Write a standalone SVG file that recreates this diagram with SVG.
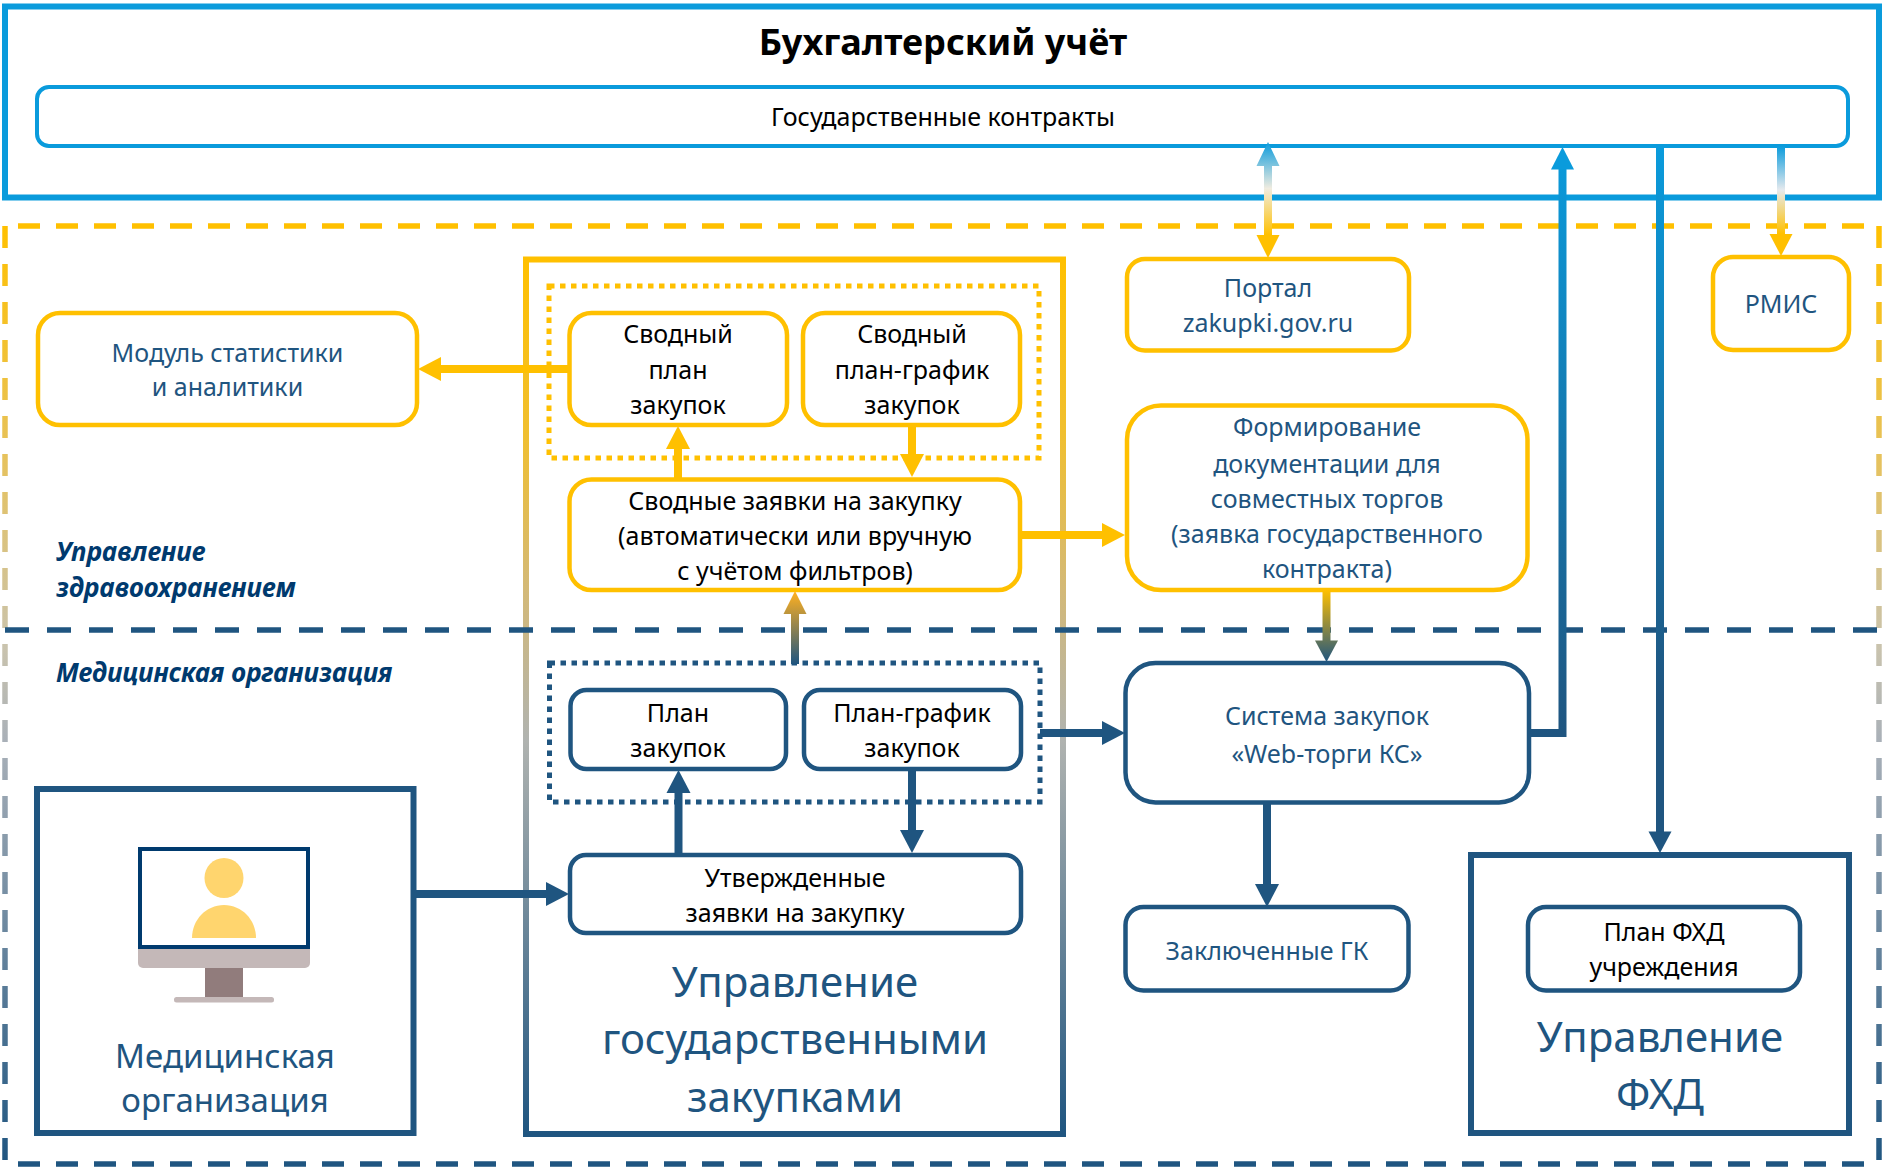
<svg xmlns="http://www.w3.org/2000/svg" width="1883" height="1167" viewBox="0 0 1883 1167">
<style>
text{font-family:"Noto Sans","Open Sans","Liberation Sans",sans-serif;text-anchor:middle;font-size:25px;fill:#000}
.b{fill:#1f5580}
.lg{font-size:42px;fill:#1f5580}
.md{font-size:33px;fill:#1f5580}
.it{font-style:italic;font-weight:700;fill:#003a6e;text-anchor:start;font-size:26px}
.title{font-weight:700;font-size:36px}
rect{fill:#fff}
.y{stroke:#ffc000;stroke-width:4.5}
.d{stroke:#1f5580;stroke-width:4.5}
.c{stroke:#0a9bdc}
.box{fill:none;stroke-width:6}
.dash{fill:none;stroke-width:5.5;stroke-dasharray:22 16}
.dot{fill:none;stroke-width:5;stroke-dasharray:5.5 5.5}
.ln{fill:none;stroke-width:8}
.ym{stroke:#ffc000}.dm{stroke:#1f5580}
</style>
<defs>
<marker id="ay" markerUnits="userSpaceOnUse" markerWidth="23" markerHeight="24" refX="0" refY="12" orient="auto" overflow="visible"><path d="M0 0L23 12L0 24z" fill="#ffc000"/></marker>
<marker id="ad" markerUnits="userSpaceOnUse" markerWidth="23" markerHeight="24" refX="0" refY="12" orient="auto" overflow="visible"><path d="M0 0L23 12L0 24z" fill="#1f5580"/></marker>
<linearGradient id="gSide" gradientUnits="userSpaceOnUse" x1="0" y1="226" x2="0" y2="1164"><stop offset="0" stop-color="#ffc000"/><stop offset=".25" stop-color="#e6c25e"/><stop offset=".45" stop-color="#c9c3ae"/><stop offset=".55" stop-color="#a9b0b8"/><stop offset="1" stop-color="#1f5580"/></linearGradient>
<linearGradient id="gBig" gradientUnits="userSpaceOnUse" x1="0" y1="259" x2="0" y2="1134"><stop offset="0" stop-color="#ffc000"/><stop offset=".2" stop-color="#f0bf30"/><stop offset=".38" stop-color="#d3b978"/><stop offset=".55" stop-color="#b0b3b0"/><stop offset="1" stop-color="#1f5580"/></linearGradient>
<linearGradient id="gL1" gradientUnits="userSpaceOnUse" x1="0" y1="147" x2="0" y2="733"><stop offset="0" stop-color="#0a9bdc"/><stop offset="1" stop-color="#1f5580"/></linearGradient>
<linearGradient id="gL2" gradientUnits="userSpaceOnUse" x1="0" y1="147" x2="0" y2="700"><stop offset="0" stop-color="#0a9bdc"/><stop offset="1" stop-color="#1f5580"/></linearGradient>
<linearGradient id="gP" gradientUnits="userSpaceOnUse" x1="0" y1="142" x2="0" y2="235"><stop offset="0" stop-color="#0a9bdc"/><stop offset=".5" stop-color="#f0ece0"/><stop offset="1" stop-color="#ffc000"/></linearGradient>
<linearGradient id="gR" gradientUnits="userSpaceOnUse" x1="0" y1="146" x2="0" y2="234"><stop offset="0" stop-color="#0a9bdc"/><stop offset=".5" stop-color="#e6eaee"/><stop offset="1" stop-color="#ffc000"/></linearGradient>
<linearGradient id="gF" gradientUnits="userSpaceOnUse" x1="0" y1="590" x2="0" y2="662"><stop offset="0" stop-color="#ffc000"/><stop offset="1" stop-color="#1f5580"/></linearGradient>
<linearGradient id="gS" gradientUnits="userSpaceOnUse" x1="0" y1="592" x2="0" y2="664"><stop offset="0" stop-color="#ffb020"/><stop offset="1" stop-color="#1f5580"/></linearGradient>
</defs>

<g id="region-accounting">
<rect x="5" y="6.5" width="1874" height="191" fill="none" class="box c" style="fill:none"/>
<text class="title" x="943" y="55">Бухгалтерский учёт</text>
</g>
<g id="node-contracts"><rect class="c" stroke-width="4" x="37" y="87" width="1811" height="59" rx="12"/><text x="943" y="126">Государственные контракты</text></g>

<g id="node-gz"><rect class="box" stroke="url(#gBig)" x="526" y="259.5" width="537" height="874.5"/>
<text class="lg" x="795" y="997">Управление</text><text class="lg" x="795" y="1054">государственными</text><text class="lg" x="795" y="1112">закупками</text></g>

<g id="regions">
<path class="dash" stroke="#ffc000" d="M18 226H1879"/>
<path class="dash" stroke="url(#gSide)" d="M5 226V1164"/>
<path class="dash" stroke="url(#gSide)" d="M1879 226V1164"/>
<path class="dash" stroke="#1f5580" d="M5 630H1880" style="stroke-dasharray:24 18"/>
<path class="dash" stroke="#1f5580" d="M18 1164H1879"/>
<text class="it" x="56" y="561">Управление</text>
<text class="it" x="56" y="597">здравоохранением</text>
<text class="it" x="56" y="682">Медицинская организация</text>
</g>

<g id="group-dotted-y"><rect class="dot" stroke="#ffc000" x="549" y="286" width="490" height="172"/></g>
<g id="group-dotted-d"><rect class="dot" stroke="#1f5580" x="549.5" y="663" width="490.5" height="139"/></g>

<g id="node-stat"><rect class="y" x="38" y="313" width="379" height="112" rx="22"/><text class="b" x="227.5" y="362">Модуль статистики</text><text class="b" x="227.5" y="396">и аналитики</text></g>
<g id="node-svplan"><rect class="y" x="569.5" y="313" width="217.5" height="112" rx="22"/><text x="678" y="343">Сводный</text><text x="678" y="379">план</text><text x="678" y="414">закупок</text></g>
<g id="node-svgraph"><rect class="y" x="803" y="313" width="217" height="112" rx="22"/><text x="912" y="343">Сводный</text><text x="912" y="379">план-график</text><text x="912" y="414">закупок</text></g>
<g id="node-svzayav"><rect class="y" x="569.5" y="479.5" width="450.5" height="110.5" rx="22"/><text x="795" y="510">Сводные заявки на закупку</text><text x="795" y="545">(автоматически или вручную</text><text x="795" y="580">с учётом фильтров)</text></g>
<g id="node-portal"><rect class="y" x="1127" y="259" width="282" height="91.5" rx="18"/><text class="b" x="1268" y="297">Портал</text><text class="b" x="1268" y="332">zakupki.gov.ru</text></g>
<g id="node-rmis"><rect class="y" x="1713" y="257" width="136" height="93" rx="20"/><text class="b" x="1781" y="313">РМИС</text></g>
<g id="node-form"><rect class="y" x="1127" y="405.5" width="400.5" height="184.5" rx="34"/><text class="b" x="1327" y="436">Формирование</text><text class="b" x="1327" y="472.500">документации для</text><text class="b" x="1327" y="508">совместных торгов</text><text class="b" x="1327" y="543">(заявка государственного</text><text class="b" x="1327" y="578">контракта)</text></g>

<g id="node-plan"><rect class="d" x="570.500" y="690" width="215.500" height="79" rx="16"/><text x="678" y="722">План</text><text x="678" y="757">закупок</text></g>
<g id="node-plangraph"><rect class="d" x="804" y="690" width="217" height="79" rx="16"/><text x="912" y="722">План-график</text><text x="912" y="757">закупок</text></g>
<g id="node-approved"><rect class="d" x="570" y="855" width="451" height="78" rx="16"/><text x="795" y="887">Утвержденные</text><text x="795" y="922">заявки на закупку</text></g>
<g id="node-web"><rect class="d" x="1125.5" y="663" width="403.5" height="139.5" rx="30"/><text class="b" x="1327" y="725">Система закупок</text><text class="b" x="1327" y="763">«Web-торги КС»</text></g>
<g id="node-gk"><rect class="d" x="1125.5" y="907" width="283" height="83.5" rx="18"/><text class="b" x="1267" y="960">Заключенные ГК</text></g>

<g id="node-mo">
<rect class="box d" style="stroke-width:6;fill:none" x="37" y="789" width="376.500" height="344"/>
<path d="M140 849h168v98H140z" fill="#fff" stroke="#003a6e" stroke-width="4"/>
<path d="M138 949h172v14a5 5 0 0 1-5 5H143a5 5 0 0 1-5-5z" fill="#c4b8b8"/>
<rect x="205" y="968" width="38" height="29" style="fill:#917c7c"/>
<rect x="174" y="997" width="100" height="5.500" rx="2.500" style="fill:#c4b8b8"/>
<ellipse cx="224" cy="878" rx="19.500" ry="20" fill="#ffd56e"/>
<path d="M192 938c0-18 14-33 32-33s32 15 32 33z" fill="#ffd56e"/>
<text class="md" x="225" y="1068">Медицинская</text><text class="md" x="225" y="1112">организация</text>
</g>
<g id="node-fhd">
<rect class="box d" style="stroke-width:6;fill:none" x="1471" y="855" width="378" height="278"/>
<text class="lg" x="1660" y="1052">Управление</text><text class="lg" x="1660" y="1109">ФХД</text>
</g>
<g id="node-planfhd"><rect class="d" x="1528" y="907" width="272" height="83.500" rx="18"/><text x="1664" y="941">План ФХД</text><text x="1664" y="976">учреждения</text></g>

<g id="connectors">
<path class="ln ym" marker-end="url(#ay)" d="M569 369H441"/>
<path class="ln ym" marker-end="url(#ay)" d="M678 479V449"/>
<path class="ln ym" marker-end="url(#ay)" d="M912 425V454"/>
<path class="ln ym" marker-end="url(#ay)" d="M1020 535H1102"/>
<path class="ln dm" marker-end="url(#ad)" d="M678.500 855V793"/>
<path class="ln dm" marker-end="url(#ad)" d="M912 769V830"/>
<path class="ln dm" marker-end="url(#ad)" d="M415 894H546"/>
<path class="ln dm" marker-end="url(#ad)" d="M1040 733H1102"/>
<path class="ln dm" marker-end="url(#ad)" d="M1267 802V884"/>
<path class="ln" stroke="url(#gP)" d="M1268 165V236"/>
<path d="M1256.500 166L1268 142L1279.500 166zM1256.500 235L1268 258L1279.500 235z" fill="url(#gP)"/>
<path class="ln" stroke="url(#gR)" d="M1781 146V235"/>
<path d="M1769.500 234L1781 256L1792.500 234z" fill="#ffc000"/>
<path class="ln" stroke="url(#gF)" d="M1326.500 590V641"/>
<path d="M1315 640.500L1326.500 662L1338 640.500z" fill="url(#gF)"/>
<path class="ln" stroke="url(#gS)" d="M795 664V613"/>
<path d="M783.500 614L795 591L806.500 614z" fill="url(#gS)"/>
<path class="ln" stroke="url(#gL1)" d="M1529 733H1562.500V168"/>
<path d="M1551 169.500L1562.500 147L1574 169.500z" fill="#0a9bdc"/>
<path class="ln" stroke="url(#gL2)" d="M1660 146V832"/>
<path d="M1648.500 831.500L1660 853L1671.500 831.500z" fill="#1f5580"/>
</g>
</svg>
